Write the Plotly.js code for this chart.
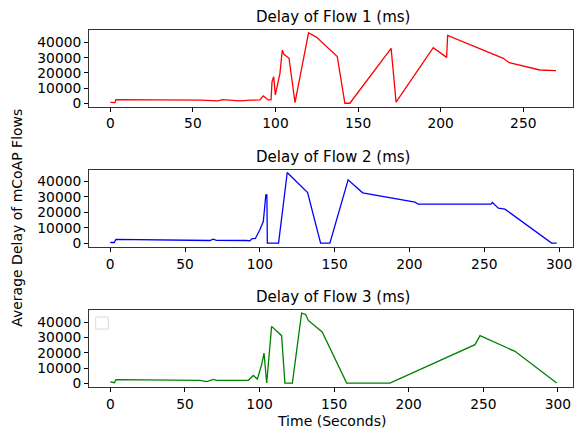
<!DOCTYPE html>
<html>
<head>
<meta charset="utf-8">
<script src="https://cdn.plot.ly/plotly-3.0.1.min.js"></script>
<style>html,body{margin:0;padding:0;background:#fff;}#chart{width:580px;height:434px;}</style>
</head>
<body>
<div id="chart"></div>
<script>
// Flow 1 (red)
var flow1_time  = [0, 2.8, 3.4, 18, 40, 55, 65, 68, 72, 78.5, 85, 90.6, 92.6, 95.6, 97.3, 97.9, 98.9, 99.9, 102.7, 104.1, 105.1, 108.2, 111.8, 120, 124.9, 131, 136.6, 137.4, 142, 145, 170, 173, 195.5, 203.6, 204.2, 237.9, 241.5, 260, 269.8];
var flow1_delay = [600, 400, 2400, 2300, 2200, 2000, 1500, 2400, 2000, 1500, 2000, 2200, 4800, 2200, 2200, 14200, 17500, 5500, 19700, 35000, 32200, 29600, 400, 46400, 43400, 37200, 31800, 30700, 0, 0, 36100, 700, 36600, 30200, 44700, 29600, 26700, 21900, 21500];

// Flow 2 (blue)
var flow2_time  = [0, 2.7, 3.8, 20, 45, 66.6, 68.8, 71, 91, 93.4, 94.5, 97, 100, 102.3, 104, 104.7, 105, 112.5, 118.3, 131.9, 140.6, 146.8, 159, 168.7, 203.7, 205.9, 254.5, 255.4, 259.4, 263.8, 295, 298.4];
var flow2_delay = [400, 400, 2400, 2300, 2200, 1700, 2600, 1800, 1700, 1500, 2800, 3000, 8700, 14000, 31400, 31400, 0, 0, 45900, 32900, 0, 0, 41100, 32700, 26600, 25300, 25300, 26400, 22700, 22100, 0, 0];

// Flow 3 (green)
var flow3_time  = [0, 2.7, 3.8, 17.6, 46.7, 60, 64.6, 69, 71.3, 92.5, 95.8, 98.5, 101.4, 103, 104.8, 108.1, 114.8, 117, 122, 128.2, 130.9, 132.7, 142, 158.4, 187.4, 244.4, 247.8, 271.2, 299.2];
var flow3_delay = [900, 400, 2400, 2400, 2000, 2000, 1100, 2600, 2000, 2000, 5200, 2800, 12200, 19900, 200, 37400, 31300, 200, 200, 46100, 45200, 41300, 33700, 200, 200, 25400, 31300, 21000, 200];

var panelTitles = ["Delay of Flow 1 (ms)", "Delay of Flow 2 (ms)", "Delay of Flow 3 (ms)"];
var xLabel = "Time (Seconds)";
var yLabel = "Average Delay of mCoAP Flows";
var yTicks = [0, 10000, 20000, 30000, 40000];
var yTickText = ["0", "10000", "20000", "30000", "40000"];
var xTicks = [0, 50, 100, 150, 200, 250, 300];

var FONT = "DejaVu Sans, sans-serif";
var tickFont = {family: FONT, size: 13.8, color: "#000"};

function mkX(range, anchor) {
  return {range: range, anchor: anchor, tickvals: xTicks, ticks: "outside", ticklen: 4, tickcolor: "#000",
    showline: true, mirror: true, linecolor: "#333", linewidth: 1, showgrid: false, zeroline: false,
    tickfont: tickFont, domain: [0, 1]};
}
function mkY(range, domain, anchor) {
  return {range: range, domain: domain, anchor: anchor, tickvals: yTicks, ticktext: yTickText, ticks: "outside", ticklen: 4, tickcolor: "#000",
    showline: true, mirror: true, linecolor: "#333", linewidth: 1, showgrid: false, zeroline: false,
    tickfont: tickFont};
}

var traces = [
  {x: flow1_time, y: flow1_delay, type: "scatter", mode: "lines", line: {color: "red", width: 1.3}, xaxis: "x", yaxis: "y"},
  {x: flow2_time, y: flow2_delay, type: "scatter", mode: "lines", line: {color: "blue", width: 1.3}, xaxis: "x2", yaxis: "y2"},
  {x: flow3_time, y: flow3_delay, type: "scatter", mode: "lines", line: {color: "green", width: 1.3}, xaxis: "x3", yaxis: "y3"}
];

var L = 89, R = 7, T = 30, B = 46.7, W = 580, H = 434;
var ph = H - T - B, pw = W - L - R;
function py(p) { return (H - B - p) / ph; }
function px(p) { return (p - L) / pw; }

var layout = {
  width: W, height: H,
  margin: {l: L, r: R, t: T, b: B, pad: 0},
  paper_bgcolor: "#fff", plot_bgcolor: "#fff",
  showlegend: false,
  font: {family: FONT, color: "#000"},
  xaxis: mkX([-12.9, 280.1], "y"),
  yaxis: mkY([-2430, 48220], [py(107), 1], "x"),
  xaxis2: mkX([-14.2, 309.3], "y2"),
  yaxis2: mkY([-2600, 47600], [py(247.3), py(170)], "x2"),
  xaxis3: mkX([-14.3, 310.1], "y3"),
  yaxis3: mkY([-2400, 48300], [0, py(310)], "x3"),
  annotations: [
    {text: panelTitles[0], xref: "paper", yref: "paper", x: px(333), y: py(17), showarrow: false, font: {family: FONT, size: 15}, xanchor: "center", yanchor: "middle"},
    {text: panelTitles[1], xref: "paper", yref: "paper", x: px(333), y: py(157), showarrow: false, font: {family: FONT, size: 15}, xanchor: "center", yanchor: "middle"},
    {text: panelTitles[2], xref: "paper", yref: "paper", x: px(333), y: py(297), showarrow: false, font: {family: FONT, size: 15}, xanchor: "center", yanchor: "middle"},
    {text: xLabel, xref: "paper", yref: "paper", x: px(331), y: py(421), showarrow: false, font: {family: FONT, size: 14}, xanchor: "center", yanchor: "middle"},
    {text: yLabel, xref: "paper", yref: "paper", x: px(17), y: py(218), showarrow: false, textangle: -90, font: {family: FONT, size: 14}, xanchor: "center", yanchor: "middle"}
  ],
  shapes: [
    {type: "rect", xref: "paper", yref: "paper", x0: px(95.7), x1: px(108.3), y0: py(329.3), y1: py(317.3), line: {color: "#d9d9d9", width: 1}, fillcolor: "rgba(255,255,255,0.8)"}
  ]
};

Plotly.newPlot("chart", traces, layout, {staticPlot: true, displayModeBar: false});
</script>
</body>
</html>
